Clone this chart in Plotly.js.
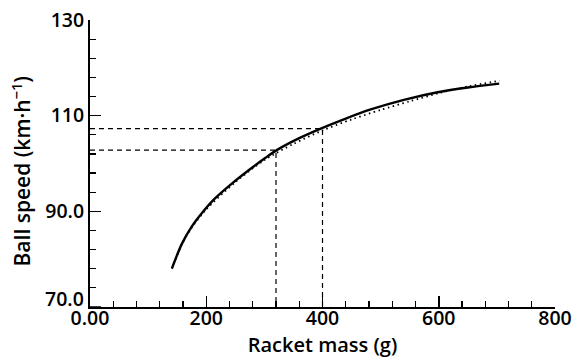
<!DOCTYPE html>
<html>
<head>
<meta charset="utf-8">
<script src="https://cdn.plot.ly/plotly-3.0.1.min.js"></script>
<style>html,body{margin:0;padding:0;background:#fff;}#chart{width:585px;height:360px;}</style>
</head>
<body>
<div id="chart"></div>
<script>
// Model curve (solid)
const massSolid = [141,158,175,193,215,244,273,302,322,360,397,440,483,540,598,650,704];
const speedSolid = [78.1,83.2,86.8,89.7,92.7,95.8,98.6,101.2,102.85,105.3,107.3,109.4,111.3,113.3,114.9,115.9,116.7];
// Fitted curve (dotted)
const massDotted = [141,158,175,200,250,300,350,400,450,500,550,600,650,705];
const speedDotted = [78.0,83.1,86.6,90.4,96.1,100.7,104.1,106.9,109.2,111.2,113.0,114.7,116.1,117.3];
// Reference (dashed) read-offs
const guideMass = [320, 400];
const guideSpeed = [102.8, 107.3];
// Axis ticks (the 70.0 label is drawn separately, raised above the x labels)
const xTickVals = [0, 200, 400, 600, 800];
const xTickText = ["0.00", "200", "400", "600", "800"];
const yTickVals = [90, 110, 130];
const yTickText = ["90.0", "110", "130"];
const yLowLabel = {value: 70, text: "70.0"};

const traces = [];
guideMass.forEach((m, i) => {
  traces.push({x: [0, m, m], y: [guideSpeed[i], guideSpeed[i], 70], mode: 'lines',
    line: {color: '#000', width: 1.2, dash: '5px,4px'}, hoverinfo: 'skip', showlegend: false});
});
traces.push({x: massDotted, y: speedDotted, mode: 'lines', line: {color: '#000', width: 1.8, dash: '1.5px,3.5px', shape: 'spline', smoothing: 0.8}, showlegend: false});
traces.push({x: massSolid, y: speedSolid, mode: 'lines', line: {color: '#000', width: 2.4, shape: 'spline', smoothing: 0.8}, showlegend: false});

const fontFam = '"Open Sans", "Noto Sans", sans-serif';
const tickFont = {size: 19.5, family: fontFam, color: '#000', weight: 600};
const layout = {
  width: 585, height: 360,
  margin: {l: 90, r: 30, t: 20, b: 53},
  paper_bgcolor: '#fff', plot_bgcolor: '#fff',
  font: {family: fontFam, color: '#000', size: 18},
  showlegend: false,
  xaxis: {
    range: [0, 800], tickmode: 'array', tickvals: xTickVals, ticktext: xTickText,
    ticks: 'inside', ticklen: 11, tickwidth: 1.5, tickcolor: '#000',
    minor: {tick0: 0, dtick: 40, ticks: 'inside', ticklen: 6, tickwidth: 1.2, tickcolor: '#000'},
    showline: true, linecolor: '#000', linewidth: 2, showgrid: false, zeroline: false,
    tickfont: tickFont, ticklabelstandoff: -7,
    title: {text: 'Racket mass (g)', font: {size: 20, family: fontFam, color: '#000', weight: 600}, standoff: 2}
  },
  yaxis: {
    range: [70, 130], tickmode: 'array', tickvals: yTickVals, ticktext: yTickText,
    ticks: 'inside', ticklen: 11, tickwidth: 1.5, tickcolor: '#000',
    minor: {tick0: 70, dtick: 4, ticks: 'inside', ticklen: 6, tickwidth: 1.2, tickcolor: '#000'},
    showline: true, linecolor: '#000', linewidth: 2, showgrid: false, zeroline: false,
    tickfont: tickFont, ticklabelstandoff: 0
  },
  shapes: [
    {type: 'line', xref: 'paper', yref: 'y', x0: 0, x1: 11 / 465, y0: yLowLabel.value, y1: yLowLabel.value,
     line: {color: '#000', width: 1.5}}
  ],
  annotations: [
    {xref: 'paper', yref: 'y', x: 0, y: yLowLabel.value, text: yLowLabel.text, showarrow: false,
     xanchor: 'right', yanchor: 'middle', xshift: -4, yshift: 9, font: tickFont},
    {xref: 'paper', yref: 'paper', x: 0, y: 0.5, text: 'Ball speed (km·h<sup>−1</sup>)', showarrow: false,
     textangle: -90, xanchor: 'center', yanchor: 'middle', xshift: -69, yshift: -8,
     font: {size: 21, family: fontFam, color: '#000', weight: 600}}
  ]
};
Plotly.newPlot('chart', traces, layout, {displayModeBar: false, staticPlot: true});
</script>
</body>
</html>
